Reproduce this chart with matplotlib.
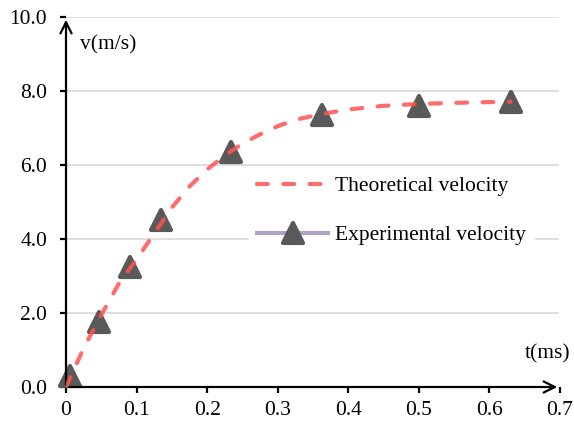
import numpy as np
import matplotlib
matplotlib.use('Agg')
import matplotlib.pyplot as plt
from matplotlib.lines import Line2D
from matplotlib.markers import MarkerStyle

plt.rcParams['font.family'] = ['Liberation Serif', 'DejaVu Serif']

# theoretical curve
t_theory = [0, 0.025, 0.05, 0.075, 0.1, 0.125, 0.15, 0.175, 0.2, 0.225, 0.25,
            0.275, 0.3, 0.325, 0.35, 0.375, 0.4, 0.45, 0.5, 0.55, 0.6, 0.63]
v_theory = [0, 1.05, 1.95, 2.8, 3.45, 4.15, 4.85, 5.42, 5.88, 6.25, 6.58,
            6.83, 7.05, 7.22, 7.33, 7.42, 7.5, 7.6, 7.65, 7.68, 7.7, 7.71]

# experimental points
t_exp = [0.005, 0.047, 0.09, 0.135, 0.234, 0.363, 0.5, 0.63]
v_exp = [0.3, 1.75, 3.25, 4.5, 6.35, 7.35, 7.6, 7.7]

yticks = [0, 2, 4, 6, 8, 10]
xticks = [0, 0.1, 0.2, 0.3, 0.4, 0.5, 0.6, 0.7]
xticklabels = ['0', '0.1', '0.2', '0.3', '0.4', '0.5', '0.6', '0.7']

red = '#ff5252'
grey = '#595959'
purple = '#b3a2c7'
dash = (0, (2.6, 3.7))
tri = MarkerStyle('^', joinstyle='round')

fig = plt.figure(figsize=(5.74, 4.23), dpi=100)
ax = fig.add_axes([66 / 574, 36 / 423, 494 / 574, 370 / 423])

ax.set_xlim(0, 0.7)
ax.set_ylim(0, 10)

for y in yticks[1:]:
    ax.axhline(y, xmax=0.995, color='#d9d9d9', lw=1.2, zorder=0)

ax.plot(t_exp, v_exp, ls='none', marker=tri, ms=14, color=grey,
        mec=grey, mew=3, clip_on=False, zorder=3)
ax.plot(t_theory, v_theory, ls=dash, lw=3, color=red, alpha=0.85,
        dash_capstyle='round', zorder=4)

for s in ax.spines.values():
    s.set_visible(False)

arrow = dict(arrowstyle='->,head_length=0.8,head_width=0.4', lw=1.6, color='black')
ax.annotate('', xy=(0, 10), xytext=(0, 0), arrowprops=arrow, annotation_clip=False)
ax.annotate('', xy=(0.7, 0), xytext=(0, 0), arrowprops=arrow, annotation_clip=False)

ax.set_yticks(yticks)
ax.set_yticklabels(['%.1f' % v for v in yticks])
ax.set_xticks(xticks)
ax.set_xticklabels(xticklabels)
ax.tick_params(axis='both', labelsize=15.5, width=1.6, color='black')
ax.tick_params(axis='y', pad=9, length=4.5)
ax.tick_params(axis='x', pad=6, length=4)

ax.text(0.02, 9.25, 'v(m/s)', fontsize=15.5, ha='left', va='center')
ax.text(0.715, 0.9, 't(ms)', fontsize=15.5, ha='right', va='center')

handles = [Line2D([], [], ls=dash, lw=3, color=red, alpha=0.85, dash_capstyle='round'),
           Line2D([], [], lw=3, color=purple, marker=tri, ms=14, mfc=grey, mec=grey, mew=3)]
leg = ax.legend(handles, ['Theoretical velocity', 'Experimental velocity'],
                loc='center left', bbox_to_anchor=(0.37, 0.476), borderaxespad=0,
                fontsize=15.5, handlelength=3.3, handletextpad=0.3, labelspacing=1.35,
                frameon=True, fancybox=False, framealpha=1, facecolor='white',
                edgecolor='white', borderpad=0.4)

fig.savefig('out.png', dpi=100)
